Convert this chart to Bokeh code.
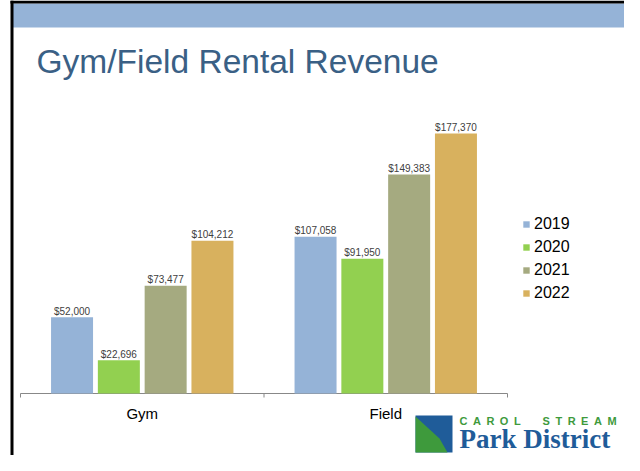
from bokeh.plotting import figure
from bokeh.models import (ColumnDataSource, Range1d, Legend, LegendItem, Label,
                          BoxAnnotation, PolyAnnotation)
from bokeh.embed import file_html
from bokeh.resources import INLINE
from bokeh.core.properties import value

# ---- data ----
categories = ["Gym", "Field"]
years = ["2019", "2020", "2021", "2022"]
values_2019 = [52000, 107058]
values_2020 = [22696, 91950]
values_2021 = [73477, 149383]
values_2022 = [104212, 177370]
series = [values_2019, values_2020, values_2021, values_2022]
colors = ["#95B3D7", "#92D050", "#A5AA80", "#D8B15E"]

# ---- layout constants (pixels) ----
W, H = 624, 455
AXIS_Y = 393        # y of the category axis line
LEFT_X = 20         # x of the first category edge
PX_PER_CAT = 243.5
PX_PER_USD = 0.0014653
BASE_FIX = 0.3      # baseline correction (in em) for "alphabetic" texts

x_start = -LEFT_X / PX_PER_CAT
x_end = x_start + W / PX_PER_CAT
y_start = -(H - AXIS_Y) / PX_PER_USD
y_end = AXIS_Y / PX_PER_USD

p = figure(width=W, height=H, x_range=Range1d(x_start, x_end), y_range=Range1d(y_start, y_end),
           output_backend="svg", toolbar_location=None, x_axis_type=None, y_axis_type=None,
           min_border_left=0, min_border_right=0, min_border_top=0, min_border_bottom=0)
p.outline_line_color = None
p.background_fill_color = "white"
p.border_fill_color = "white"


def sx(px):
    return px


def sy(py):
    return H - py


def box(l, r, t, b, color, **kw):
    return BoxAnnotation(left=sx(l), right=sx(r), top=sy(t), bottom=sy(b),
                         left_units="screen", right_units="screen", top_units="screen",
                         bottom_units="screen", fill_color=color, fill_alpha=1,
                         line_color=None, **kw)


def label(x, baseline, text, size, **kw):
    return Label(x=sx(x), y=sy(baseline - BASE_FIX * size), x_units="screen", y_units="screen",
                 text=text, text_font_size=f"{size}px", text_baseline="alphabetic", **kw)


# ---- slide decorations ----
p.add_layout(box(12, 640, 3, 27, "#95B3D7", level="underlay"))
p.add_layout(box(10, 640, 0, 3, "black"))
p.add_layout(box(10, 13, 0, 480, "black"))
p.add_layout(label(36, 70.7, "Gym/Field Rental Revenue", 33.5, text_font="Liberation Sans",
                   text_color="#3A6085"))

# ---- category axis (drawn through the data scales) ----
n = len(categories)
ticks = [i + 0.5 for i in range(n)]
edges = [float(i) for i in range(n + 1)]
p.segment(x0=[edges[0]], x1=[edges[-1]], y0=[0], y1=[0], line_color="#888888", line_width=1)
p.segment(x0=edges, x1=edges, y0=[0] * len(edges), y1=[-4 / PX_PER_USD] * len(edges),
          line_color="#888888", line_width=1)
p.text(x=ticks, y=[0] * n, text=categories, text_align="center", text_baseline="alphabetic",
       y_offset=24 - BASE_FIX * 15, text_font=value("Liberation Sans"), text_font_size="15px",
       text_color="black")

# ---- bars ----
step = 46.8 / PX_PER_CAT
bar_w = 42 / PX_PER_CAT
items = []
for j, (yr, vals, col) in enumerate(zip(years, series, colors)):
    off = (j - (len(years) - 1) / 2) * step
    src = ColumnDataSource(dict(x=[i + 0.5 + off for i in range(n)],
                                top=vals, label=[f"${v:,}" for v in vals]))
    r = p.vbar(x="x", top="top", bottom=0, width=bar_w, source=src, fill_color=col,
               line_color=None)
    p.text(x="x", y="top", text="label", source=src, text_align="center",
           text_baseline="alphabetic", y_offset=-3 - BASE_FIX * 10,
           text_font=value("Liberation Sans"), text_font_size="10px", text_color="#404040")
    items.append(LegendItem(label=yr, renderers=[r]))

legend = Legend(items=items, location=(sx(522), sy(304)), orientation="vertical",
                glyph_width=8, glyph_height=8, label_height=22, spacing=1, padding=0,
                margin=0, label_standoff=4, label_text_font="Liberation Sans",
                label_text_font_size="16px", label_text_color="black",
                border_line_color=None, background_fill_alpha=0)
p.add_layout(legend)

# ---- logo (fitted inside the canvas, bottom right) ----
p.add_layout(box(415, 452, 415, 452, "#1F5C99"))
p.add_layout(PolyAnnotation(xs=[sx(v) for v in (415, 439, 447, 415)],
                            ys=[sy(v) for v in (416, 438, 452, 452)],
                            xs_units="screen", ys_units="screen",
                            fill_color="#3E9A3C", fill_alpha=1, line_color=None))
p.add_layout(label(459, 424,
                   "C\u2002A\u2002R\u2002O\u2002L\u2003\u2003S\u2002T\u2002R\u2002E\u2002A\u2002M",
                   11, text_font="Liberation Sans", text_font_style="bold",
                   text_color="#3E9A3C"))
p.add_layout(label(459, 447, "Park District", 27, text_font="Liberation Serif",
                   text_font_style="bold", text_color="#1F5C99"))

open("out.html", "w").write(file_html(p, INLINE))
